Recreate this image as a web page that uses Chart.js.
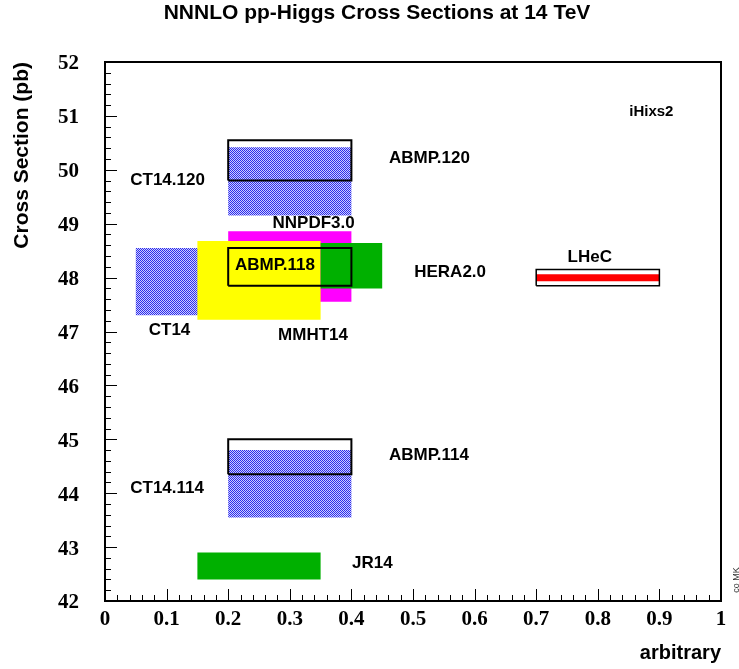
<!DOCTYPE html>
<html><head><meta charset="utf-8">
<script src="https://cdn.jsdelivr.net/npm/chart.js@4.4.0/dist/chart.umd.min.js"></script>
<style>html,body{margin:0;padding:0;background:#fff;} #wrap{width:739px;height:669px;position:relative;}</style>
</head><body><div id="wrap"><canvas id="c" width="739" height="669"></canvas></div>
<script>
// ---- data ----
const boxNames = ['CT14.120','ABMP.120','NNPDF3.0','CT14','MMHT14','HERA2.0','ABMP.118','LHeC band','LHeC','CT14.114','ABMP.114','JR14'];
const xLow  = [0.20, 0.20, 0.20, 0.05, 0.15, 0.35, 0.20, 0.70, 0.70, 0.20, 0.20, 0.15];
const xHigh = [0.40, 0.40, 0.40, 0.25, 0.35, 0.45, 0.40, 0.90, 0.90, 0.40, 0.40, 0.35];
const yLow  = [49.15, 49.80, 47.55, 47.30, 47.22, 47.80, 47.85, 47.93, 47.85, 43.55, 44.35, 42.40];
const yHigh = [50.42, 50.55, 48.86, 48.55, 48.68, 48.64, 48.55, 48.06, 48.15, 44.80, 45.00, 42.90];
const boxKind = ['hatch','open','magenta','hatch','yellow','green','open','red','openThin','hatch','open','green'];

const textLabels = ['iHixs2','CT14.120','ABMP.120','NNPDF3.0','ABMP.118','HERA2.0','LHeC','CT14','MMHT14','ABMP.114','CT14.114','JR14'];
const textX = [0.851, 0.041, 0.461, 0.272, 0.211, 0.502, 0.751, 0.071, 0.281, 0.461, 0.041, 0.401];
const textY = [51.07, 49.81, 50.22, 49.00, 48.22, 48.09, 48.38, 47.03, 46.92, 44.70, 44.09, 42.69];

const xTickValues = [0,0.1,0.2,0.3,0.4,0.5,0.6,0.7,0.8,0.9,1];
const xTickLabels = ['0','0.1','0.2','0.3','0.4','0.5','0.6','0.7','0.8','0.9','1'];
const yTickValues = [42,43,44,45,46,47,48,49,50,51,52];
const yTickLabels = ['42','43','44','45','46','47','48','49','50','51','52'];

// ---- styles ----
function makeHatch(){
  const p = document.createElement('canvas'); p.width = 2; p.height = 2;
  const g = p.getContext('2d');
  g.fillStyle = 'rgb(205,205,255)'; g.fillRect(0,0,2,2);
  g.fillStyle = 'rgb(45,45,235)'; g.fillRect(0,0,1,1); g.fillRect(1,1,1,1);
  return g.createPattern(p,'repeat');
}
const hatch = makeHatch();
const kindStyle = {
  hatch:   {fill:true,  bg:hatch},
  magenta: {fill:true,  bg:'#ff00ff'},
  yellow:  {fill:true,  bg:'#ffff00'},
  green:   {fill:true,  bg:'#00b000'},
  red:     {fill:true,  bg:'#ff0000'},
  open:    {fill:false, bw:2},
  openThin:{fill:false, bw:1.5}
};

const N = boxNames.length;
const datasets = boxNames.map((name,i)=>{
  const st = kindStyle[boxKind[i]];
  return {
    label: name,
    data: [{x:xLow[i],y:yLow[i]},{x:xHigh[i],y:yLow[i]},{x:xHigh[i],y:yHigh[i]},{x:xLow[i],y:yHigh[i]},{x:xLow[i],y:yLow[i]}],
    showLine: true,
    pointRadius: 0,
    pointHoverRadius: 0,
    tension: 0,
    fill: st.fill ? 'shape' : false,
    backgroundColor: st.fill ? st.bg : 'rgba(0,0,0,0)',
    borderColor: st.fill ? 'rgba(0,0,0,0)' : '#000',
    borderWidth: st.fill ? 0 : st.bw,
    order: N - i
  };
});

const decor = {
  id: 'decor',
  afterDraw(chart){
    const {ctx, chartArea:a, scales:{x, y}} = chart;
    ctx.save();
    // inside ticks
    ctx.strokeStyle = '#000'; ctx.lineWidth = 1;
    ctx.beginPath();
    for (let k=0;k<=50;k++){
      const v = k*0.02;
      const px = Math.round(x.getPixelForValue(v)) + 0.5;
      const len = (k%5===0) ? 12 : 6;
      ctx.moveTo(px, a.bottom); ctx.lineTo(px, a.bottom - len);
    }
    for (let k=0;k<=50;k++){
      const v = 42 + k*0.2;
      const py = Math.round(y.getPixelForValue(v)) + 0.5;
      const len = (k%5===0) ? 12 : 6;
      ctx.moveTo(a.left, py); ctx.lineTo(a.left + len, py);
    }
    ctx.stroke();
    // frame
    ctx.lineWidth = 2;
    ctx.strokeRect(a.left, a.top, a.right - a.left, a.bottom - a.top);
    // labels
    ctx.fillStyle = '#000';
    ctx.textAlign = 'left'; ctx.textBaseline = 'middle';
    textLabels.forEach((t,i)=>{
      ctx.font = (t === 'iHixs2') ? 'bold 15px "Liberation Sans", Arial, sans-serif' : 'bold 17px "Liberation Sans", Arial, sans-serif';
      ctx.fillText(t, x.getPixelForValue(textX[i]), y.getPixelForValue(textY[i]));
    });
    // title
    ctx.font = 'bold 21px "Liberation Sans", Arial, sans-serif';
    ctx.textAlign = 'center'; ctx.textBaseline = 'middle';
    ctx.fillText('NNNLO pp-Higgs Cross Sections at 14 TeV', 377, 13);
    // small signature
    ctx.translate(737, 580); ctx.rotate(-Math.PI/2);
    ctx.font = '9px "Liberation Sans", Arial, sans-serif';
    ctx.fillStyle = '#333';
    ctx.fillText('co MK', 0, 0);
    ctx.restore();
  }
};

new Chart(document.getElementById('c'), {
  type: 'line',
  data: { datasets },
  plugins: [decor],
  options: {
    responsive: false,
    animation: false,
    events: [],
    layout: { padding: {top:62, right:18, bottom:0, left:0} },
    plugins: { legend:{display:false}, tooltip:{enabled:false}, title:{display:false} },
    scales: {
      x: {
        type: 'linear', position: 'bottom', min: 0, max: 1,
        grid: {display:false, drawTicks:false},
        border: {display:false},
        afterBuildTicks: s => { s.ticks = xTickValues.map(v=>({value:v})); },
        afterFit: s => { s.height = 68; },
        ticks: {
          autoSkip:false, maxRotation:0, minRotation:0, padding: 6, color:'#000',
          font: {family:'"Liberation Serif", "Times New Roman", serif', weight:'bold', size:21},
          callback: (v,i) => xTickLabels[i]
        },
        title: {display:true, text:'arbitrary', align:'end', color:'#000',
          font:{family:'"Liberation Sans", Arial, sans-serif', weight:'bold', size:20},
          padding:{top:0, bottom:4}}
      },
      y: {
        type: 'linear', position: 'left', min: 42, max: 52,
        grid: {display:false, drawTicks:false},
        border: {display:false},
        afterBuildTicks: s => { s.ticks = yTickValues.map(v=>({value:v})); },
        afterFit: s => { s.width = 105; },
        ticks: {
          autoSkip:false, padding: 26, labelOffset: 2, color:'#000',
          font: {family:'"Liberation Serif", "Times New Roman", serif', weight:'bold', size:21},
          callback: (v,i) => yTickLabels[i]
        },
        title: {display:true, text:'Cross Section (pb)', align:'end', color:'#000',
          font:{family:'"Liberation Sans", Arial, sans-serif', weight:'bold', size:21},
          padding:{top:10, bottom:0}}
      }
    }
  }
});
</script>
</body></html>
